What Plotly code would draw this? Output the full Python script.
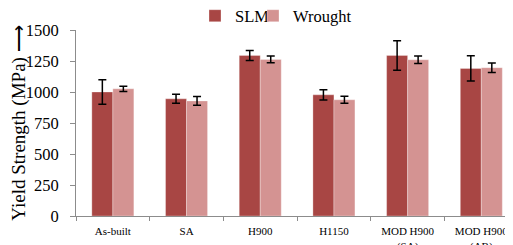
import plotly.graph_objects as go

categories = ["As-built", "SA", "H900", "H1150", "MOD H900<br>(SA)", "MOD H900<br>(AB)"]
slm_values = [1000, 945, 1295, 977, 1295, 1190]
slm_errors = [98, 36, 40, 42, 119, 102]
wrought_values = [1026, 928, 1263, 937, 1260, 1196]
wrought_errors = [21, 35, 27, 28, 30, 38]
y_ticks = [0, 250, 500, 750, 1000, 1250, 1500]

FONT = "Times New Roman, Liberation Serif, serif"
AXIS_GRAY = "#8c8c8c"

fig = go.Figure()
fig.add_trace(go.Bar(
    name="SLM", x=categories, y=slm_values, legend="legend",
    marker=dict(color="#A84644", line=dict(color="rgba(255,255,255,0.5)", width=0.6)),
    error_y=dict(type="data", array=slm_errors, color="black", thickness=1.5, width=4),
))
fig.add_trace(go.Bar(
    name="Wrought", x=categories, y=wrought_values, legend="legend2",
    marker=dict(color="#D49392", line=dict(color="rgba(255,255,255,0.5)", width=0.6)),
    error_y=dict(type="data", array=wrought_errors, color="black", thickness=1.5, width=4),
))

legend_common = dict(
    orientation="h", xanchor="left", xref="container", yref="container",
    y=1 - 8 / 245, yanchor="middle",
    font=dict(size=16.5, family=FONT), bgcolor="rgba(0,0,0,0)",
    itemwidth=30,
)

# page body has an 8px margin, so the figure is offset by (8, 8) in the window
fig.update_layout(
    width=513, height=245,
    margin=dict(l=68, r=8, t=22, b=37, autoexpand=False),
    paper_bgcolor="white", plot_bgcolor="white",
    barmode="group", bargap=0.43, bargroupgap=0,
    font=dict(family=FONT, color="black"),
    legend=dict(legend_common, x=(195 - 8) / 513),
    legend2=dict(legend_common, x=(253 - 8) / 513),
    showlegend=True,
)
fig.update_xaxes(
    range=[-0.5, 5.43], showline=True, linecolor=AXIS_GRAY, linewidth=1,
    ticks="outside", tickson="boundaries", ticklen=4, tickcolor=AXIS_GRAY,
    tickfont=dict(size=11, family=FONT), showgrid=False, zeroline=False,
    ticklabelstandoff=5, automargin=False,
)
fig.update_yaxes(
    range=[0, 1500], tickvals=y_ticks, showline=True, linecolor=AXIS_GRAY, linewidth=1,
    ticks="outside", ticklen=5, tickcolor=AXIS_GRAY,
    tickfont=dict(size=16.5, family=FONT), showgrid=False, zeroline=False,
    ticklabelstandoff=8,
    title=dict(text="Yield Strength (MPa) \u27f6", font=dict(size=19, family=FONT), standoff=0),
    automargin=False,
)

fig.write_html("out.html")
